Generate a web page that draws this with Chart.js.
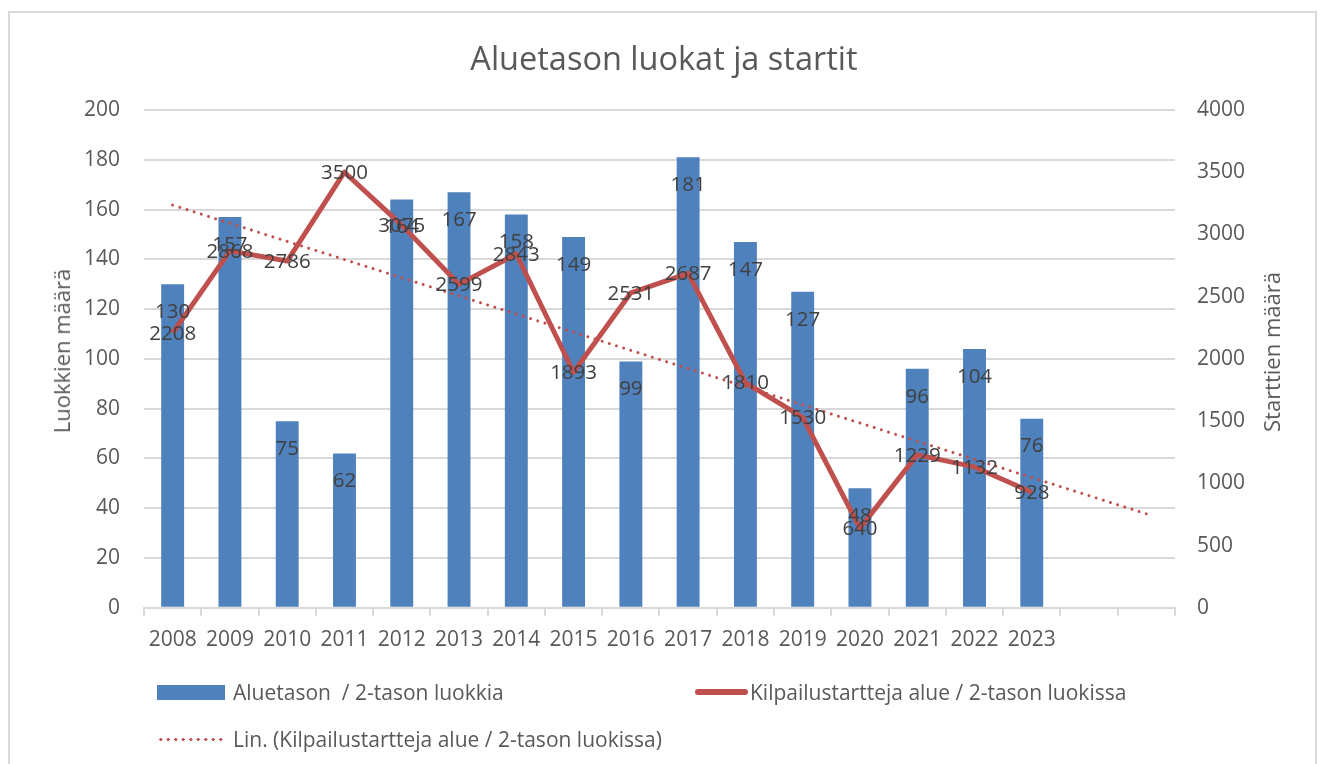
<!DOCTYPE html>
<html>
<head>
<meta charset="utf-8">
<script src="https://cdn.jsdelivr.net/npm/chart.js@4.4.1/dist/chart.umd.min.js"></script>
<style>
  html, body { margin:0; padding:0; background:#fff; }
  body { width:1324px; height:764px; position:relative; overflow:hidden; font-family:"Open Sans", sans-serif; color:#595959; }
  #frame { position:absolute; left:8px; top:11px; width:1309px; height:800px; border:2px solid #d9d9d9; box-sizing:border-box; }
  #wrap { position:absolute; left:0; top:0; width:1324px; height:764px; }
  #title { position:absolute; left:0; top:36px; width:1328px; text-align:center; font-size:32.5px; line-height:44px; color:#595959; }
  .axis-title { position:absolute; font-size:22px; white-space:nowrap; transform:translate(-50%,-50%) rotate(-90deg); color:#595959; }
  .legend-item { position:absolute; font-size:21px; line-height:26px; white-space:nowrap; color:#595959; }
  .sw { position:absolute; }
</style>
</head>
<body>
<div id="frame"></div>
<div id="wrap"><canvas id="chart" width="1324" height="764"></canvas></div>
<div id="title">Aluetason luokat ja startit</div>
<div class="axis-title" style="left:61px; top:351px;">Luokkien määrä</div>
<div class="axis-title" style="left:1271px; top:352px;">Starttien määrä</div>

<div class="sw" style="left:157px; top:685px; width:68px; height:15px; background:#4f81bd;"></div>
<div class="legend-item" style="left:233px; top:679px;">Aluetason&nbsp; / 2-tason luokkia</div>
<div class="sw" style="left:695px; top:689px; width:53px; height:6px; background:#c0504d; border-radius:3px;"></div>
<div class="legend-item" style="left:750px; top:679px;">Kilpailustartteja alue / 2-tason luokissa</div>
<div class="sw" style="left:157px; top:738px; width:68px; height:3px; background:radial-gradient(circle, #c0504d 1.4px, transparent 1.6px) 0 0 / 7.5px 3px repeat-x;"></div>
<div class="legend-item" style="left:233px; top:726px;">Lin. (Kilpailustartteja alue / 2-tason luokissa)</div>

<script>
const years = ["2008","2009","2010","2011","2012","2013","2014","2015","2016","2017","2018","2019","2020","2021","2022","2023","",""];
const classes = [130,157,75,62,164,167,158,149,99,181,147,127,48,96,104,76];
const starts = [2208,2868,2786,3500,3075,2599,2843,1893,2531,2687,1810,1530,640,1229,1132,928];
// linear trend: start at 2008, ends two periods after 2023
const trend = [3236,null,null,null,null,null,null,null,null,null,null,null,null,null,null,null,null,755];

const blue = "#4f81bd";
const red = "#c0504d";
const gridGrey = "#d9d9d9";
const textGrey = "#595959";
const fontFamily = "'Open Sans', sans-serif";

const valueLabels = {
  id: "valueLabels",
  afterDatasetsDraw(chart){
    const ctx = chart.ctx;
    ctx.save();
    ctx.font = "20.5px " + fontFamily;
    ctx.fillStyle = "#404040";
    ctx.textAlign = "center";
    ctx.textBaseline = "middle";
    chart.getDatasetMeta(0).data.forEach((bar, i) => {
      ctx.fillText(String(classes[i]), bar.x, bar.y + 28);
    });
    chart.getDatasetMeta(1).data.forEach((pt, i) => {
      ctx.fillText(String(starts[i]), pt.x, pt.y + 1);
    });
    ctx.restore();
  }
};

new Chart(document.getElementById("chart"), {
  type: "bar",
  data: {
    labels: years,
    datasets: [
      {type:"bar", label:"Aluetason  / 2-tason luokkia", data:classes, backgroundColor:blue, yAxisID:"y", order:3,
        barPercentage:0.8, categoryPercentage:0.5},
      {type:"line", label:"Kilpailustartteja alue / 2-tason luokissa", data:starts, borderColor:red, borderWidth:5,
        pointRadius:0, tension:0, yAxisID:"y1", order:2, borderJoinStyle:"round"},
      {type:"line", label:"Lin. (Kilpailustartteja alue / 2-tason luokissa)", data:trend, borderColor:red, borderWidth:3,
        borderDash:[0.01, 7.5], borderCapStyle:"round", pointRadius:0, spanGaps:true, yAxisID:"y1", order:1}
    ]
  },
  options: {
    responsive:false,
    animation:false,
    layout:{padding:{left:60, right:57, top:110, bottom:99}},
    plugins:{legend:{display:false}, title:{display:false}, tooltip:{enabled:false}},
    scales:{
      x:{
        offset:true,
        grid:{display:true, drawOnChartArea:false, drawTicks:true, tickLength:8, color:gridGrey, lineWidth:2, offset:true},
        border:{display:true, color:gridGrey, width:2},
        ticks:{color:textGrey, font:{family:fontFamily, size:21}, padding:12, maxRotation:0, autoSkip:false}
      },
      y:{
        position:"left", min:0, max:200,
        ticks:{stepSize:20, color:textGrey, font:{family:fontFamily, size:21}, padding:24},
        grid:{color:gridGrey, lineWidth:2, drawTicks:false},
        border:{display:false}
      },
      y1:{
        position:"right", min:0, max:4000,
        ticks:{stepSize:500, color:textGrey, font:{family:fontFamily, size:21}, padding:22, callback:v => String(v)},
        grid:{display:false, drawTicks:false},
        border:{display:false}
      }
    }
  },
  plugins:[valueLabels]
});
</script>
</body>
</html>
